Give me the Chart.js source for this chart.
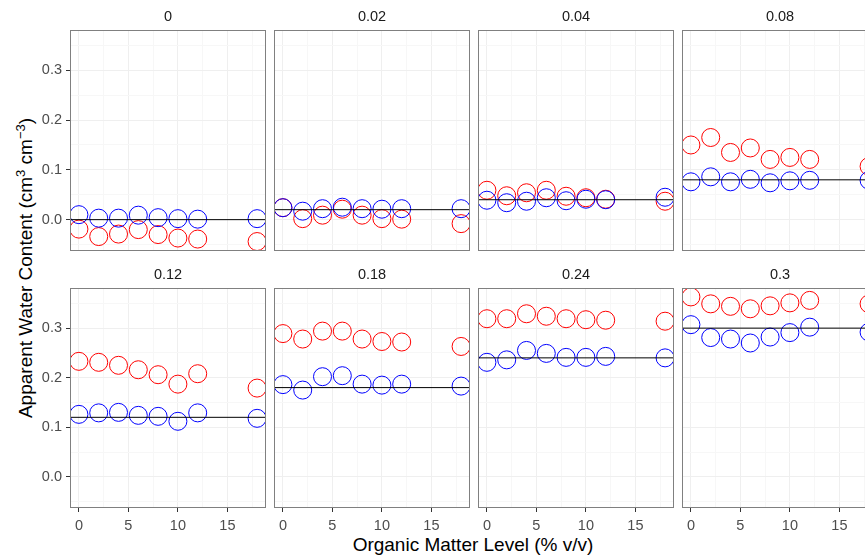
<!DOCTYPE html>
<html>
<head>
<meta charset="utf-8">
<script src="https://cdn.jsdelivr.net/npm/chart.js@4"></script>
<style>
    body { margin: 0; width: 865px; height: 559px; overflow: hidden; background: #fff; position: relative; font-family: "Liberation Sans", Arial, sans-serif; }
    canvas { position: absolute; }
    .titre { position: absolute; color: #000; font-size: 19px; white-space: nowrap; }
    #titre-x { left: 473px; top: 545px; transform: translate(-50%, -50%); }
    #titre-y { left: 25px; top: 268px; transform: translate(-50%, -50%) rotate(-90deg); }
    sup { font-size: 13px; }
</style>
</head>
<body>
<div class="titre" id="titre-x">Organic Matter Level (% v/v)</div>
<div class="titre" id="titre-y">Apparent Water Content (cm<sup>3</sup> cm<sup>&minus;3</sup>)</div>

<script>
// Valeurs
const niveaux = [0, 0.02, 0.04, 0.08, 0.12, 0.18, 0.24, 0.3];
const etiquettesPanneaux = ["0", "0.02", "0.04", "0.08", "0.12", "0.18", "0.24", "0.3"];
const matiereOrganique = [0, 2, 4, 6, 8, 10, 12, 18];

const valeursRouges = [
    [-0.019, -0.034, -0.029, -0.020, -0.030, -0.037, -0.039, -0.044],
    [0.024, 0.002, 0.009, 0.021, 0.009, 0.002, 0.001, -0.008],
    [0.059, 0.048, 0.054, 0.059, 0.047, 0.044, 0.041, 0.037],
    [0.150, 0.165, 0.135, 0.144, 0.121, 0.125, 0.121, 0.107],
    [0.233, 0.231, 0.225, 0.216, 0.206, 0.187, 0.208, 0.179],
    [0.289, 0.278, 0.294, 0.294, 0.278, 0.273, 0.272, 0.263],
    [0.319, 0.319, 0.329, 0.324, 0.319, 0.317, 0.316, 0.314],
    [0.363, 0.349, 0.344, 0.339, 0.345, 0.351, 0.356, 0.349]
];

const valeursBleues = [
    [0.010, 0.003, 0.003, 0.009, 0.004, 0.002, 0.001, 0.002],
    [0.024, 0.017, 0.022, 0.025, 0.022, 0.021, 0.022, 0.022],
    [0.039, 0.034, 0.037, 0.044, 0.038, 0.041, 0.040, 0.045],
    [0.076, 0.086, 0.076, 0.081, 0.074, 0.078, 0.079, 0.079],
    [0.126, 0.129, 0.130, 0.124, 0.122, 0.112, 0.129, 0.118],
    [0.186, 0.175, 0.202, 0.204, 0.187, 0.185, 0.187, 0.183],
    [0.231, 0.236, 0.255, 0.249, 0.241, 0.241, 0.243, 0.240],
    [0.307, 0.281, 0.278, 0.270, 0.282, 0.291, 0.302, 0.292]
];

const xTicks = [0, 5, 10, 15];
const xGrille = [0, 2.5, 5, 7.5, 10, 12.5, 15, 17.5];
const yTicks = [0, 0.1, 0.2, 0.3];
const yGrille = [-0.05, 0, 0.05, 0.1, 0.15, 0.2, 0.25, 0.3, 0.35];

const xMin = -0.9, xMax = 18.9;
const yMin = -0.063, yMax = 0.381;

// Position des panneaux (pixels)
const gauches = [70, 274, 478, 682];
const hauts = [30, 288];
const hauteurs = [221, 220];
const largeur = 196;

Chart.defaults.font.family = '"Liberation Sans", Arial, sans-serif';

function estMajeur (liste, v) {
    return liste.some(t => Math.abs(t - v) < 1e-9);
}

// Pas de marge automatique autour des axes
function sansMarge (scale) {
    scale.paddingTop = 0;
    scale.paddingBottom = 0;
    scale.paddingLeft = 0;
    scale.paddingRight = 0;
}

// Cadre gris autour de chaque panneau
const cadre = {
    id: "cadre",
    afterDraw (chart) {
        const { ctx, chartArea: a } = chart;
        ctx.save();
        ctx.strokeStyle = "#808080";
        ctx.lineWidth = 1;
        ctx.strokeRect(a.left + 0.5, a.top + 0.5, a.right - a.left - 1, a.bottom - a.top - 1);
        ctx.restore();
    }
};

for (let i = 0; i < niveaux.length; i++) {
    const col = i % 4;
    const rang = Math.floor(i / 4);
    const avecY = col === 0;
    const avecX = rang === 1;

    const largeurY = avecY ? 70 : 0;
    const padG = avecY ? 0 : 1;
    const hauteurX = avecX ? 50 : 0;
    const padB = avecX ? 0 : 1;

    const canvas = document.createElement("canvas");
    canvas.width = padG + largeurY + largeur + 1;
    canvas.height = 30 + hauteurs[rang] + hauteurX + padB;
    canvas.style.left = (gauches[col] - largeurY - padG) + "px";
    canvas.style.top = (hauts[rang] - 30) + "px";
    document.body.appendChild(canvas);

    const points = (vals) => matiereOrganique.map((x, k) => ({ x: x, y: vals[k] }));

    new Chart(canvas, {
        type: "scatter",
        data: {
            datasets: [
                {
                    data: [{ x: xMin, y: niveaux[i] }, { x: xMax, y: niveaux[i] }],
                    showLine: true,
                    borderColor: "#000",
                    borderWidth: 1,
                    pointRadius: 0
                },
                {
                    data: points(valeursBleues[i]),
                    pointRadius: 9,
                    pointBorderWidth: 1,
                    borderColor: "#0000ff",
                    backgroundColor: "rgba(0,0,0,0)"
                },
                {
                    data: points(valeursRouges[i]),
                    pointRadius: 9,
                    pointBorderWidth: 1,
                    borderColor: "#ff0000",
                    backgroundColor: "rgba(0,0,0,0)"
                }
            ]
        },
        options: {
            responsive: false,
            animation: false,
            events: [],
            layout: { autoPadding: false, padding: { left: padG, right: 1, top: 0, bottom: padB } },
            plugins: {
                legend: { display: false },
                tooltip: { enabled: false },
                title: {
                    display: true,
                    text: etiquettesPanneaux[i],
                    fullSize: false,
                    color: "#1a1a1a",
                    font: { size: 14.5, weight: "normal", lineHeight: 1.2 },
                    padding: { top: 8.1, bottom: 4.5 }
                }
            },
            scales: {
                x: {
                    type: "linear",
                    min: xMin,
                    max: xMax,
                    afterBuildTicks: (scale) => { scale.ticks = xGrille.map(v => ({ value: v })); },
                    afterFit: (scale) => { scale.height = hauteurX; sansMarge(scale); },
                    border: { display: false },
                    grid: {
                        drawTicks: avecX,
                        tickLength: 4,
                        color: (c) => estMajeur(xTicks, c.tick.value) ? "#efefef" : "#f7f7f7",
                        tickColor: (c) => estMajeur(xTicks, c.tick.value) ? "#333" : "rgba(0,0,0,0)"
                    },
                    ticks: {
                        display: avecX,
                        autoSkip: false,
                        maxRotation: 0,
                        padding: 5,
                        color: "#4d4d4d",
                        font: { size: 14.5 },
                        callback: (v) => estMajeur(xTicks, v) ? String(v) : ""
                    }
                },
                y: {
                    type: "linear",
                    min: yMin,
                    max: yMax,
                    afterBuildTicks: (scale) => { scale.ticks = yGrille.map(v => ({ value: v })); },
                    afterFit: (scale) => { scale.width = largeurY; sansMarge(scale); },
                    border: { display: false },
                    grid: {
                        drawTicks: avecY,
                        tickLength: 4,
                        color: (c) => estMajeur(yTicks, c.tick.value) ? "#efefef" : "#f7f7f7",
                        tickColor: (c) => estMajeur(yTicks, c.tick.value) ? "#333" : "rgba(0,0,0,0)"
                    },
                    ticks: {
                        display: avecY,
                        autoSkip: false,
                        padding: 4,
                        color: "#4d4d4d",
                        font: { size: 14.5 },
                        callback: (v) => estMajeur(yTicks, v) ? v.toFixed(1) : ""
                    }
                }
            }
        },
        plugins: [cadre]
    });
}
</script>
</body>
</html>
